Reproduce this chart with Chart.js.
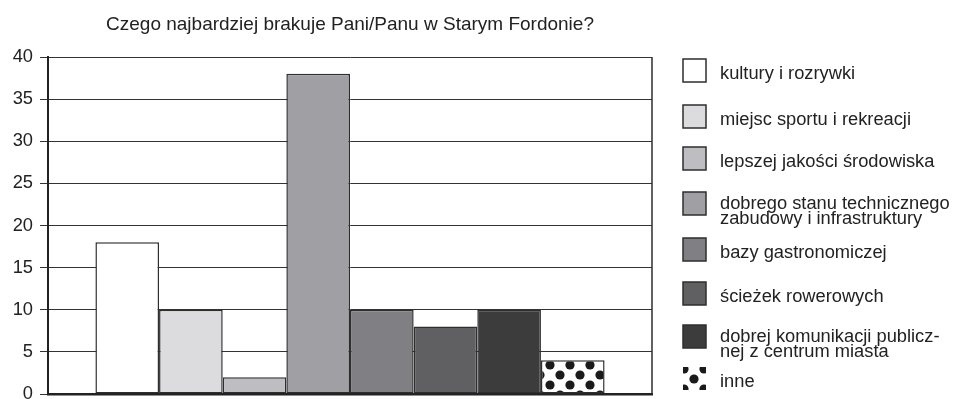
<!DOCTYPE html>
<html>
<head>
<meta charset="utf-8">
<script src="https://cdn.jsdelivr.net/npm/chart.js@4"></script>
<style>
html, body { margin: 0; padding: 0; background: #fff; overflow: hidden; }
#wrap { position: relative; width: 958px; height: 420px; }
</style>
</head>
<body>
<div id="wrap"><canvas id="chart"></canvas></div>
<script>
const chartTitle = 'Czego najbardziej brakuje Pani/Panu w Starym Fordonie?';
const categories = [
    'kultury i rozrywki',
    'miejsc sportu i rekreacji',
    'lepszej jakości środowiska',
    'dobrego stanu technicznego\nzabudowy i infrastruktury',
    'bazy gastronomiczej',
    'ścieżek rowerowych',
    'dobrej komunikacji publicz-\nnej z centrum miasta',
    'inne'
];
const values = [18, 10, 2, 38, 10, 8, 10, 4];
const fills = ['#ffffff', '#dcdcde', '#bebec2', '#a0a0a4', '#808084', '#606062', '#3c3c3c', 'dots'];
const yMin = 0, yMax = 40, yStep = 5;

const FONT = '"Liberation Sans", Arial, sans-serif';

// black dots on white, staggered
function dotPattern() {
    let c = document.createElement('canvas');
    c.width = 20; c.height = 20;
    let g = c.getContext('2d');
    g.fillStyle = '#fff';
    g.fillRect(0, 0, 20, 20);
    g.fillStyle = '#1a1a1a';
    [[10, 5], [0, 15], [20, 15], [10, 25], [0, -5], [20, -5]].forEach(function (p) {
        g.beginPath();
        g.arc(p[0], p[1], 4.6, 0, Math.PI * 2);
        g.fill();
    });
    return document.getElementById('chart').getContext('2d').createPattern(c, 'repeat');
}

const dots = dotPattern();
const colorOf = function (f) { return f === 'dots' ? dots : f; };

const datasets = categories.map(function (name, i) {
    return {
        label: name,
        data: [values[i]],
        backgroundColor: colorOf(fills[i]),
        borderColor: '#2e2e2e',
        borderWidth: 1.5,
        borderSkipped: false,
        barPercentage: 1,
        categoryPercentage: 0.843
    };
});

// title over the plot + the legend on the right
const decor = {
    id: 'decor',
    afterDraw(chart) {
        const ctx = chart.ctx, a = chart.chartArea;
        ctx.save();
        ctx.strokeStyle = '#2e2e2e';
        ctx.lineWidth = 1.5;
        ctx.beginPath();
        ctx.moveTo(a.right, a.top);
        ctx.lineTo(a.right, a.bottom);
        ctx.stroke();

        ctx.fillStyle = '#222';
        ctx.font = '19px ' + FONT;
        ctx.textAlign = 'center';
        ctx.textBaseline = 'middle';
        ctx.fillText(chartTitle, (a.left + a.right) / 2, 25);

        const tops = [59, 105, 147, 192, 238, 282, 325, 367];
        ctx.font = '18.3px ' + FONT;
        ctx.textAlign = 'left';
        categories.forEach(function (name, i) {
            let y = tops[i];
            if (fills[i] === 'dots') {
                // shift the pattern so the box shows a "five" of dots
                ctx.save();
                ctx.translate(14, 4);
                ctx.fillStyle = dots;
                ctx.fillRect(683 - 14, y - 4, 23, 23);
                ctx.restore();
            } else {
                ctx.fillStyle = fills[i];
                ctx.fillRect(683, y, 23, 23);
                ctx.strokeStyle = '#2e2e2e';
                ctx.lineWidth = 1.5;
                ctx.strokeRect(683, y, 23, 23);
            }
            ctx.fillStyle = '#222';
            let lines = name.split('\n');
            let c = y + 11.5;
            if (lines.length === 1) {
                ctx.fillText(lines[0], 720, c + 3);
            } else {
                ctx.fillText(lines[0], 720, c);
                ctx.fillText(lines[1], 720, c + 15);
            }
        });
        ctx.restore();
    }
};

new Chart(document.getElementById('chart'), {
    type: 'bar',
    data: { labels: [''], datasets: datasets },
    options: {
        responsive: true,
        maintainAspectRatio: false,
        animation: false,
        layout: { padding: { left: 0, top: 57, right: 306, bottom: 26 } },
        plugins: { legend: { display: false }, tooltip: { enabled: false }, title: { display: false } },
        scales: {
            x: {
                grid: { display: false },
                ticks: { display: false },
                border: { color: '#222', width: 2.5 },
                afterFit: function (s) { s.height = 0; }
            },
            y: {
                min: yMin,
                max: yMax,
                ticks: { stepSize: yStep, color: '#222', padding: 7, font: { family: FONT, size: 18.3 } },
                grid: { color: '#333', lineWidth: 1, tickLength: 8, drawTicks: true },
                border: { color: '#222', width: 2 },
                afterFit: function (s) { s.width = 48; }
            }
        }
    },
    plugins: [decor]
});
</script>
</body>
</html>
